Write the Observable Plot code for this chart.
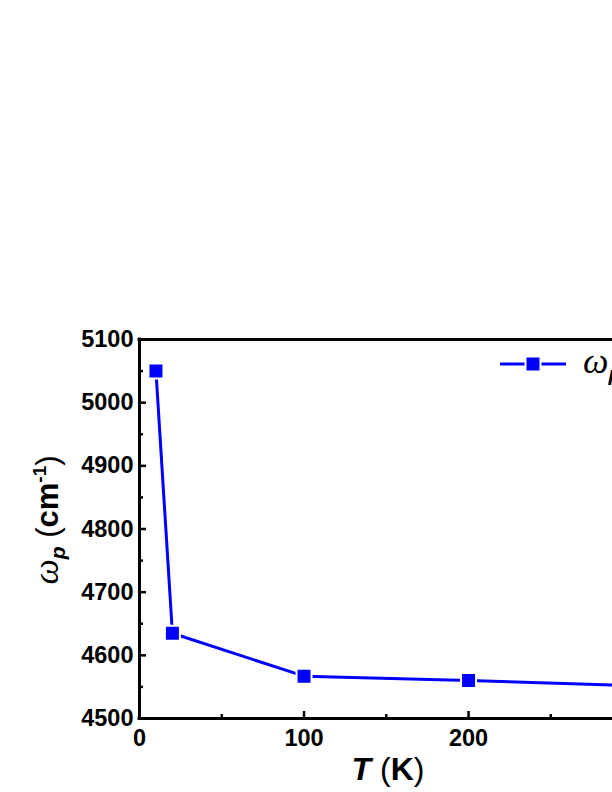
<!DOCTYPE html>
<html><head><meta charset="utf-8">
<script src="https://cdn.jsdelivr.net/npm/d3@7"></script>
<script src="https://cdn.jsdelivr.net/npm/@observablehq/plot@0.6"></script>
<style>
html,body{margin:0;padding:0;background:#fff;overflow:hidden;}
</style></head><body><div id="chart"></div>
<script>
const temperatures = [10, 20, 100, 200, 300];
const omegaP = [5050, 4635, 4567, 4560, 4552];
const xMajorTicks = [0, 100, 200];
const xMinorTicks = [50, 150, 250];
const yMajorTicks = [4500, 4600, 4700, 4800, 4900, 5000, 5100];
const yMinorTicks = [4550, 4650, 4750, 4850, 4950, 5050];

const data = temperatures.map((t, i) => ({T: t, w: omegaP[i]}));
const font = "'Liberation Sans', Arial, sans-serif";
const serif = "'Liberation Serif', 'DejaVu Serif', serif";
const blue = "#0000ff";
const empty = () => "";

const plot = Plot.plot({
  width: 612, height: 792,
  marginLeft: 139, marginRight: 0, marginTop: 339, marginBottom: 74,
  style: {fontFamily: font, background: "white", overflow: "hidden", color: "black"},
  x: {domain: [0, 287.5]},
  y: {domain: [4500, 5100]},
  marks: [
    Plot.axisX(xMajorTicks, {tickSize: 0, tickPadding: 11, fontSize: 23.5, fontWeight: "bold", tickFormat: "d", label: null, fill: "black"}),
    Plot.axisX(xMajorTicks, {tickSize: -7, tickFormat: empty, label: null, strokeWidth: 2.5, stroke: "black"}),
    Plot.axisX(xMinorTicks, {tickSize: -4, tickFormat: empty, label: null, strokeWidth: 2.5, stroke: "black"}),
    Plot.axisY(yMajorTicks, {tickSize: 0, tickPadding: 6, fontSize: 23.5, fontWeight: "bold", tickFormat: "d", label: null, fill: "black"}),
    Plot.axisY(yMajorTicks, {tickSize: -7, tickFormat: empty, label: null, strokeWidth: 2.5, stroke: "black"}),
    Plot.axisY(yMinorTicks, {tickSize: -4, tickFormat: empty, label: null, strokeWidth: 2.5, stroke: "black"}),
    Plot.ruleY([4500, 5100], {strokeWidth: 3, strokeLinecap: "square", stroke: "black"}),
    Plot.ruleX([0], {strokeWidth: 3, strokeLinecap: "square", stroke: "black"}),
    Plot.line(data, {x: "T", y: "w", stroke: blue, strokeWidth: 3}),
    Plot.dot(data, {x: "T", y: "w", symbol: "square", r: 8.46, fill: blue, stroke: "white", strokeWidth: 2})
  ]
});
document.getElementById("chart").appendChild(plot);

const svg = d3.select(plot);
// x-axis title
const xt = svg.append("text").attr("x", 388).attr("y", 780).attr("text-anchor", "middle")
  .attr("font-family", font).attr("font-size", 32).attr("fill", "black");
xt.append("tspan").attr("font-weight", "bold").attr("font-style", "italic").text("T");
xt.append("tspan").text(" (");
xt.append("tspan").attr("font-weight", "bold").text("K");
xt.append("tspan").text(")");

// y-axis title
const yt = svg.append("text").attr("transform", "translate(58,520) rotate(-90)").attr("text-anchor", "middle")
  .attr("font-family", font).attr("font-size", 31).attr("fill", "black");
yt.append("tspan").attr("font-family", serif).attr("font-style", "italic").attr("font-size", 36).text("ω");
yt.append("tspan").attr("font-weight", "bold").attr("font-style", "italic").attr("font-size", 21).attr("dy", 7).text("p");
yt.append("tspan").attr("dy", -7).text(" (");
yt.append("tspan").attr("font-weight", "bold").text("cm");
yt.append("tspan").attr("font-weight", "bold").attr("font-size", 19).attr("dy", -12).text("-1");
yt.append("tspan").attr("dy", 12).text(")");

// legend (its text runs off the right edge, as in the reference)
const lg = svg.append("g");
lg.append("line").attr("x1", 500).attr("x2", 566).attr("y1", 364).attr("y2", 364)
  .attr("stroke", blue).attr("stroke-width", 3);
lg.append("rect").attr("x", 533 - 7.5).attr("y", 364 - 7.5).attr("width", 15).attr("height", 15)
  .attr("fill", blue).attr("stroke", "white").attr("stroke-width", 2);
const lt = lg.append("text").attr("x", 583).attr("y", 373).attr("text-anchor", "start")
  .attr("font-family", font).attr("font-size", 31).attr("fill", "black");
lt.append("tspan").attr("font-family", serif).attr("font-style", "italic").attr("font-size", 36).text("ω");
lt.append("tspan").attr("font-weight", "bold").attr("font-style", "italic").attr("font-size", 21).attr("dy", 8).text("p");
</script>
</body></html>
